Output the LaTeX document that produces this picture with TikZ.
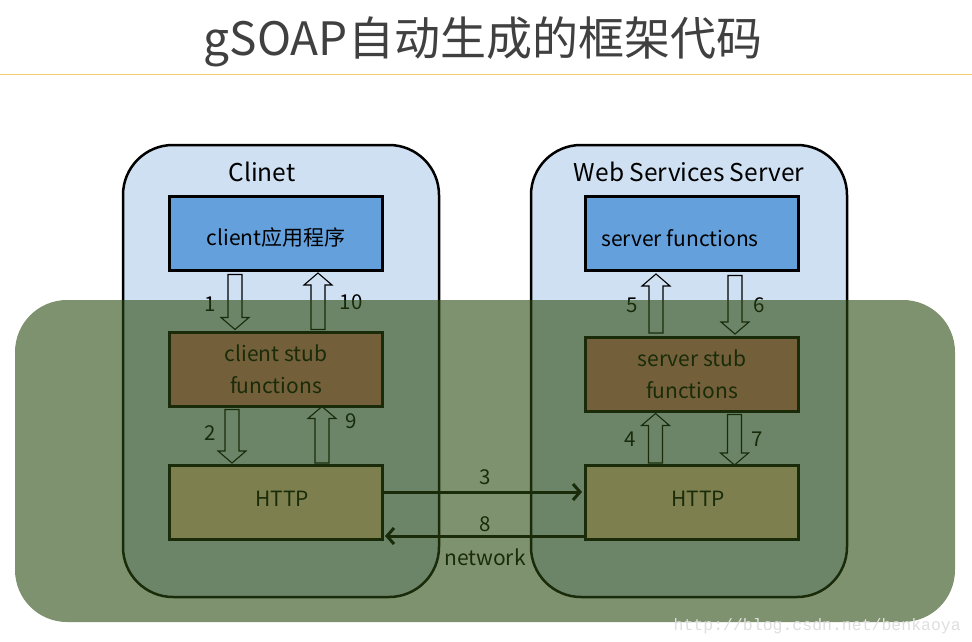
\documentclass[tikz,border=0pt]{standalone}
\usepackage{fontspec}
\setmainfont{Noto Sans CJK SC}
\newfontfamily\wmfont{Liberation Mono}
\usetikzlibrary{arrows.meta,calc}
\definecolor{contfill}{RGB}{207,224,242}
\definecolor{appblue}{RGB}{99,160,220}
\definecolor{stubcol}{RGB}{225,128,122}
\definecolor{httpcol}{RGB}{250,210,177}
\definecolor{ovgreen}{RGB}{42,73,15}
\definecolor{titlegray}{RGB}{64,64,64}
\definecolor{rulegold}{RGB}{244,204,110}
\definecolor{wmgray}{RGB}{222,222,222}
\newcommand\blkdown[2]{\draw[blkarrow] let \p1=#1, \p2=#2 in
  (\x1-7pt,\y1) -- (\x1-7pt,\y2+12pt) -- (\x1-14pt,\y2+12pt) -- (\x1,\y2)
  -- (\x1+14pt,\y2+12pt) -- (\x1+7pt,\y2+12pt) -- (\x1+7pt,\y1) -- cycle;}
\newcommand\blkup[2]{\draw[blkarrow] let \p1=#1, \p2=#2 in
  (\x1-7pt,\y1) -- (\x1-7pt,\y2-12pt) -- (\x1-14pt,\y2-12pt) -- (\x1,\y2)
  -- (\x1+14pt,\y2-12pt) -- (\x1+7pt,\y2-12pt) -- (\x1+7pt,\y1) -- cycle;}
\begin{document}
\begin{tikzpicture}[x=1pt,y=-1pt,
  container/.style={draw=black,line width=2.5pt,fill=contfill,rounded corners=50pt},
  boxnode/.style={draw=black,line width=3pt,minimum width=213pt,minimum height=74pt,inner sep=0pt,align=center,font=\fontsize{21}{32}\selectfont},
  boxtext/.style={font=\fontsize{21}{24}\selectfont,inner sep=0pt},
  blkarrow/.style={draw=black,line width=1.1pt,line join=miter},
  numlabel/.style={font=\fontsize{20.5}{22}\selectfont,inner sep=0pt},
  headlabel/.style={font=\fontsize{24.5}{27}\selectfont,inner sep=0pt},
  netarrow/.style={draw=black,line width=3pt,-{Straight Barb[length=7pt,width=16pt,line width=3pt]}},
]
\useasboundingbox (0,0) rectangle (972,642);
% title
\node[text=titlegray,font=\fontsize{46}{50}\selectfont,inner sep=0pt] (title) at (483,42) {gSOAP自动生成的框架代码};
\coordinate (ruleL) at (0,75);
\coordinate (ruleR) at (972,75);
\draw[rulegold,line width=1pt] (ruleL) -- (ruleR);
% containers
\draw[container] (123,145) rectangle (439,597);
\draw[container] (531,145) rectangle (847,597);
\node[headlabel] (clinet) at (262,172) {Clinet};
\node[headlabel] (wss) at (689,172) {Web Services Server};
% boxes
\node[boxnode,fill=appblue] (capp) at (275.5,233) {};
\node[boxtext] (capptxt) at (276,238) {client应用程序};
\node[boxnode,fill=stubcol] (cstub) at (276,369) {client stub\\functions};
\node[boxnode,fill=httpcol] (httpL) at (276,502.5) {};
\node[boxtext] (httpLtxt) at (282,499) {HTTP};
\node[boxnode,fill=appblue] (sfun) at (692,233) {};
\node[boxtext] (sfuntxt) at (680,238) {server functions};
\node[boxnode,fill=stubcol] (sstub) at (692,374) {server stub\\functions};
\node[boxnode,fill=httpcol] (httpR) at (692,502.5) {};
\node[boxtext] (httpRtxt) at (698,499) {HTTP};
% x positions of block arrows
\coordinate (xa1) at (235,0);
\coordinate (xa10) at (318,0);
\coordinate (xa2) at (232,0);
\coordinate (xa9) at (322,0);
\coordinate (xa5) at (656,0);
\coordinate (xa6) at (735,0);
\coordinate (xa4) at (655.5,0);
\coordinate (xa7) at (734.5,0);
% block arrows
\blkdown{($(capp.south -| xa1)+(0,3)$)}{($(cstub.north -| xa1)+(0,-1)$)}
\blkup{($(cstub.north -| xa10)+(0,-1)$)}{($(capp.south -| xa10)+(0,1.5)$)}
\blkdown{($(cstub.south -| xa2)+(0,2)$)}{($(httpL.north -| xa2)+(0,-1)$)}
\blkup{($(httpL.north -| xa9)+(0,-1)$)}{($(cstub.south -| xa9)+(0,-1)$)}
\blkup{($(sstub.north -| xa5)+(0,-2.5)$)}{($(sfun.south -| xa5)+(0,2.5)$)}
\blkdown{($(sfun.south -| xa6)+(0,4)$)}{($(sstub.north -| xa6)+(0,-1.5)$)}
\blkup{($(httpR.north -| xa4)+(0,-1)$)}{($(sstub.south -| xa4)+(0,1)$)}
\blkdown{($(sstub.south -| xa7)+(0,2)$)}{($(httpR.north -| xa7)+(0,1)$)}
% numbers
\node[numlabel] (n1) at (210,304) {1};
\node[numlabel] (n10) at (351,302) {10};
\node[numlabel] (n2) at (210,433) {2};
\node[numlabel] (n9) at (351,421) {9};
\node[numlabel] (n5) at (632,305) {5};
\node[numlabel] (n6) at (759,305) {6};
\node[numlabel] (n4) at (630,439) {4};
\node[numlabel] (n7) at (757,439) {7};
% network arrows
\draw[netarrow] ($(httpL.east)+(0,-10.5)$) -- ($(httpR.west)+(-2,-10.5)$);
\draw[netarrow] ($(httpR.west)+(0,33.5)$) -- ($(httpL.east)+(1,33.5)$);
\node[numlabel] (n3) at (485,477) {3};
\node[numlabel] (n8) at (485,524) {8};
\node[boxtext] (net) at (485,557) {network};
% green overlay
\fill[ovgreen,fill opacity=0.6,rounded corners=52pt] (15,300) rectangle (955,622);
% watermark
\node[text=wmgray,font=\wmfont\fontsize{16.5}{18}\selectfont,inner sep=0pt,anchor=east] (wm) at (961,626) {http://blog.csdn.net/benkaoya};
\end{tikzpicture}
\end{document}
